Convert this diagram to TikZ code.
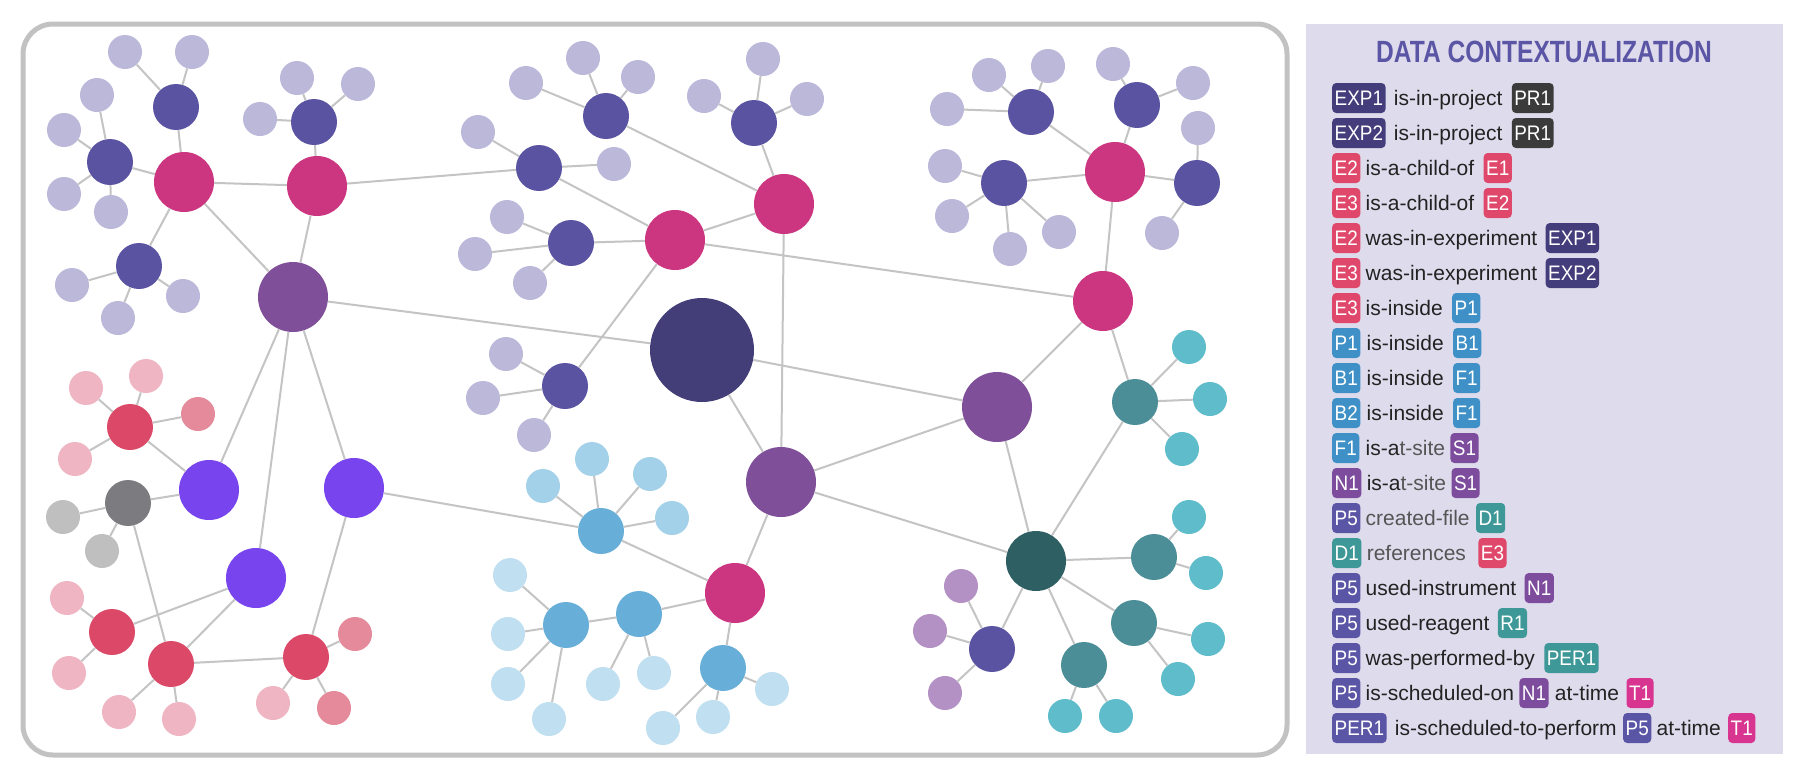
\documentclass[tikz,border=0pt]{standalone}
\usepackage{fontspec}
\setmainfont{Liberation Sans}
\newfontfamily\tagfont[FakeStretch=0.9]{Liberation Sans}
\newfontfamily\relfont{Liberation Sans}
\newfontfamily\titlefont[FakeStretch=0.8]{Liberation Sans}
\definecolor{clav}{HTML}{BBB8DA}
\definecolor{cnavy}{HTML}{5A53A2}
\definecolor{cpink}{HTML}{CC3580}
\definecolor{cpur}{HTML}{7F4F99}
\definecolor{cbig}{HTML}{433E77}
\definecolor{cred}{HTML}{DC4968}
\definecolor{clpink}{HTML}{EFB5C2}
\definecolor{cdpink}{HTML}{E48A9B}
\definecolor{cgray}{HTML}{7C7B7F}
\definecolor{clgray}{HTML}{BFBFBF}
\definecolor{cviolet}{HTML}{7744EE}
\definecolor{cblue}{HTML}{67AED8}
\definecolor{clblue}{HTML}{A4D1EA}
\definecolor{cvlblue}{HTML}{C0DFF0}
\definecolor{cteal}{HTML}{4B8E97}
\definecolor{cdteal}{HTML}{2E5F63}
\definecolor{clteal}{HTML}{5FBDCB}
\definecolor{clilac}{HTML}{B391C4}
\definecolor{cedge}{HTML}{C4C4C4}
\definecolor{cframe}{HTML}{C2C2C2}
\definecolor{cpanel}{HTML}{DEDBEC}
\definecolor{ctitle}{HTML}{5B55A5}
\definecolor{ctext}{HTML}{222222}
\definecolor{cgtext}{HTML}{555555}
\definecolor{tgexp}{HTML}{443D7B}
\definecolor{tgpr}{HTML}{3B3B3B}
\definecolor{tgred}{HTML}{E0486B}
\definecolor{tgblue}{HTML}{3E90C6}
\definecolor{tgpurp}{HTML}{7D4C9D}
\definecolor{tgind}{HTML}{5B55A6}
\definecolor{tgteal}{HTML}{3F9898}
\definecolor{tgpink}{HTML}{D83590}
\begin{document}
\begin{tikzpicture}[x=1pt,y=-1pt,
  ball/.style={circle,inner sep=0pt,draw=none},
  nlav/.style={ball,minimum size=34pt,fill=clav},
  nnavy/.style={ball,minimum size=46pt,fill=cnavy},
  npink/.style={ball,minimum size=60pt,fill=cpink},
  npur/.style={ball,minimum size=70pt,fill=cpur},
  nbig/.style={ball,minimum size=104pt,fill=cbig},
  nred/.style={ball,minimum size=46pt,fill=cred},
  nlpink/.style={ball,minimum size=34pt,fill=clpink},
  ndpink/.style={ball,minimum size=34pt,fill=cdpink},
  ngray/.style={ball,minimum size=46pt,fill=cgray},
  nlgray/.style={ball,minimum size=34pt,fill=clgray},
  nviolet/.style={ball,minimum size=60pt,fill=cviolet},
  nblue/.style={ball,minimum size=46pt,fill=cblue},
  nlblue/.style={ball,minimum size=34pt,fill=clblue},
  nvlblue/.style={ball,minimum size=34pt,fill=cvlblue},
  nteal/.style={ball,minimum size=46pt,fill=cteal},
  ndteal/.style={ball,minimum size=60pt,fill=cdteal},
  nlteal/.style={ball,minimum size=34pt,fill=clteal},
  nlilac/.style={ball,minimum size=34pt,fill=clilac},
  link/.style={draw=cedge,line width=2pt},
  tagbox/.style={rounded corners=4pt,text=white,font=\tagfont\fontsize{21}{25}\selectfont,
    text height=15pt,text depth=0pt,inner ysep=7.5pt,inner xsep=2.5pt,anchor=base west},
  rel/.style={font=\relfont\fontsize{21}{25}\selectfont,text=ctext,inner sep=0pt,anchor=base west}
]
\useasboundingbox (0,0) rectangle (1806,780);
\fill[white] (0,0) rectangle (1806,780);
\draw[line width=5pt,cframe,rounded corners=30pt] (23,24) rectangle (1287,755);

% ---------- nodes: top-left
\node[nlav] (a1) at (125,52) {};
\node[nlav] (a2) at (192,52) {};
\node[nnavy] (a3) at (176,107) {};
\node[nlav] (a4) at (97,95) {};
\node[nlav] (a5) at (64,130) {};
\node[nnavy] (a6) at (110,162) {};
\node[nlav] (a7) at (64,194) {};
\node[nlav] (a8) at (111,212) {};
\node[npink] (pA) at (184,182) {};
\node[nlav] (b1) at (297,78) {};
\node[nlav] (b2) at (358,84) {};
\node[nlav] (b3) at (260,119) {};
\node[nnavy] (b4) at (314,122) {};
\node[npink] (pB) at (317,186) {};
\node[nnavy] (c1) at (139,266) {};
\node[nlav] (c2) at (72,285) {};
\node[nlav] (c3) at (183,296) {};
\node[nlav] (c4) at (118,318) {};
\node[npur] (u1) at (293,297) {};
% top-middle
\node[nlav] (d1) at (583,58) {};
\node[nlav] (d2) at (526,83) {};
\node[nlav] (d3) at (638,77) {};
\node[nnavy] (d4) at (606,116) {};
\node[nlav] (e0) at (478,132) {};
\node[nnavy] (e1) at (539,168) {};
\node[nlav] (e2) at (614,164) {};
\node[nlav] (f1) at (507,217) {};
\node[nlav] (f2) at (475,254) {};
\node[nlav] (f3) at (530,283) {};
\node[nnavy] (f4) at (571,243) {};
\node[npink] (pC) at (675,240) {};
\node[nlav] (g1) at (763,59) {};
\node[nlav] (g2) at (704,96) {};
\node[nlav] (g3) at (807,99) {};
\node[nnavy] (g4) at (754,123) {};
\node[npink] (pD) at (784,204) {};
\node[nbig] (big) at (702,350) {};
% top-right
\node[nlav] (i1) at (989,75) {};
\node[nlav] (i2) at (1048,66) {};
\node[nlav] (i3) at (947,109) {};
\node[nnavy] (i4) at (1031,112) {};
\node[nlav] (j1) at (1113,64) {};
\node[nlav] (j2) at (1193,83) {};
\node[nnavy] (j3) at (1137,105) {};
\node[nlav] (k1) at (945,166) {};
\node[nlav] (k2) at (952,216) {};
\node[nlav] (k3) at (1010,249) {};
\node[nlav] (k4) at (1059,232) {};
\node[nnavy] (k5) at (1004,183) {};
\node[npink] (pE) at (1115,172) {};
\node[nlav] (l1) at (1198,128) {};
\node[nnavy] (l2) at (1197,183) {};
\node[nlav] (l3) at (1162,233) {};
\node[npink] (pF) at (1103,301) {};
% middle
\node[nlav] (h1) at (506,354) {};
\node[nlav] (h2) at (483,398) {};
\node[nlav] (h3) at (534,435) {};
\node[nnavy] (h4) at (565,386) {};
\node[npur] (u3) at (781,482) {};
\node[npink] (pG) at (735,593) {};
\node[nblue] (s1) at (601,531) {};
\node[nlblue] (s1a) at (592,459) {};
\node[nlblue] (s1b) at (543,486) {};
\node[nlblue] (s1c) at (650,474) {};
\node[nlblue] (s1d) at (672,518) {};
\node[nblue] (t1) at (639,614) {};
\node[nblue] (t2) at (566,625) {};
\node[nvlblue] (t1a) at (603,684) {};
\node[nvlblue] (t1b) at (654,673) {};
\node[nvlblue] (t2a) at (510,575) {};
\node[nvlblue] (t2b) at (508,634) {};
\node[nvlblue] (t2c) at (508,684) {};
\node[nvlblue] (t2d) at (549,719) {};
\node[nblue] (ub) at (723,668) {};
\node[nvlblue] (uba) at (772,689) {};
\node[nvlblue] (ubb) at (713,717) {};
\node[nvlblue] (ubc) at (663,728) {};
% bottom-right
\node[npur] (u2) at (997,407) {};
\node[nteal] (n1) at (1135,402) {};
\node[nlteal] (m1) at (1189,347) {};
\node[nlteal] (m2) at (1210,399) {};
\node[nlteal] (m3) at (1182,449) {};
\node[ndteal] (dk) at (1036,561) {};
\node[nteal] (o1) at (1154,557) {};
\node[nlteal] (o2) at (1189,517) {};
\node[nlteal] (o3) at (1206,573) {};
\node[nteal] (p1) at (1134,623) {};
\node[nlteal] (p2) at (1208,639) {};
\node[nlteal] (p3) at (1178,679) {};
\node[nteal] (q1) at (1084,665) {};
\node[nlteal] (q2) at (1065,716) {};
\node[nlteal] (q3) at (1116,716) {};
\node[nnavy] (r1) at (992,649) {};
\node[nlilac] (r2) at (961,586) {};
\node[nlilac] (r3) at (930,631) {};
\node[nlilac] (r4) at (945,693) {};
% bottom-left
\node[nred] (v1) at (130,427) {};
\node[nlpink] (v1a) at (86,388) {};
\node[nlpink] (v1b) at (146,376) {};
\node[nlpink] (v1c) at (75,459) {};
\node[ndpink] (v1d) at (198,414) {};
\node[nviolet] (V1) at (209,490) {};
\node[ngray] (gr) at (128,503) {};
\node[nlgray] (gra) at (63,517) {};
\node[nlgray] (grb) at (102,551) {};
\node[nviolet] (V2) at (354,488) {};
\node[nviolet] (V3) at (256,578) {};
\node[nred] (w1) at (112,632) {};
\node[nlpink] (w1a) at (67,598) {};
\node[nlpink] (w1b) at (69,673) {};
\node[nred] (w2) at (171,664) {};
\node[nlpink] (w2a) at (119,712) {};
\node[nlpink] (w2b) at (179,719) {};
\node[nred] (x1) at (306,657) {};
\node[ndpink] (x1a) at (355,634) {};
\node[ndpink] (x1b) at (334,708) {};
\node[nlpink] (x1c) at (273,703) {};

% ---------- edges
\foreach \p/\q in {a1/a3,a2/a3,a3/pA,a4/a6,a5/a6,a7/a6,a8/a6,a6/pA,pA/pB,pA/u1,pA/c1,
  c1/c2,c1/c3,c1/c4,b1/b4,b2/b4,b3/b4,b4/pB,pB/u1,pB/e1,u1/big,u1/V1,u1/V3,u1/V2,
  d1/d4,d2/d4,d3/d4,d4/pD,e0/e1,e1/e2,e1/pC,f1/f4,f2/f4,f3/f4,f4/pC,pC/pD,
  g1/g4,g2/g4,g3/g4,g4/pD,pC/pF,pD/u3,pC/h4,big/u2,big/u3,h1/h4,h2/h4,h3/h4,
  i1/i4,i2/i4,i3/i4,i4/pE,j1/j3,j2/j3,j3/pE,k1/k5,k2/k5,k3/k5,k4/k5,k5/pE,
  pE/l2,l1/l2,l2/l3,pE/pF,pF/u2,pF/n1,
  u3/u2,u3/dk,u3/pG,pG/s1,pG/t1,pG/ub,t1/t2,s1/V2,s1/s1a,s1/s1b,s1/s1c,s1/s1d,
  t1/t1a,t1/t1b,t2/t2a,t2/t2b,t2/t2c,t2/t2d,ub/uba,ub/ubb,ub/ubc,
  u2/dk,dk/n1,n1/m1,n1/m2,n1/m3,dk/o1,o1/o2,o1/o3,dk/p1,p1/p2,p1/p3,
  dk/q1,q1/q2,q1/q3,dk/r1,r1/r2,r1/r3,r1/r4,
  v1/V1,v1/v1a,v1/v1b,v1/v1c,v1/v1d,gr/V1,gr/gra,gr/grb,gr/w2,V3/w1,V3/w2,
  w1/w1a,w1/w1b,w2/w2a,w2/w2b,w2/x1,V2/x1,x1/x1a,x1/x1b,x1/x1c}
  \draw[link] (\p) -- (\q);

% ---------- legend
\fill[cpanel] (1306,24) rectangle (1783,754);
\node[font=\titlefont\bfseries\fontsize{30.7}{36}\selectfont,text=ctitle] (title) at (1544,52) {DATA CONTEXTUALIZATION};

\node[tagbox,fill=tgexp] (r1a) at (1332,105.5) {EXP1};
\node[rel] (r1b) at ([xshift=8pt]r1a.base east) {is-in-project};
\node[tagbox,fill=tgpr] (r1c) at ([xshift=9pt]r1b.base east) {PR1};

\node[tagbox,fill=tgexp] (r2a) at (1332,140.5) {EXP2};
\node[rel] (r2b) at ([xshift=8pt]r2a.base east) {is-in-project};
\node[tagbox,fill=tgpr] (r2c) at ([xshift=9pt]r2b.base east) {PR1};

\node[tagbox,fill=tgred] (r3a) at (1332,175.5) {E2};
\node[rel] (r3b) at ([xshift=5pt]r3a.base east) {is-a-child-of};
\node[tagbox,fill=tgred] (r3c) at ([xshift=9pt]r3b.base east) {E1};

\node[tagbox,fill=tgred] (r4a) at (1332,210.5) {E3};
\node[rel] (r4b) at ([xshift=5pt]r4a.base east) {is-a-child-of};
\node[tagbox,fill=tgred] (r4c) at ([xshift=9pt]r4b.base east) {E2};

\node[tagbox,fill=tgred] (r5a) at (1332,245.5) {E2};
\node[rel] (r5b) at ([xshift=5pt]r5a.base east) {was-in-experiment};
\node[tagbox,fill=tgexp] (r5c) at ([xshift=8pt]r5b.base east) {EXP1};

\node[tagbox,fill=tgred] (r6a) at (1332,280.5) {E3};
\node[rel] (r6b) at ([xshift=5pt]r6a.base east) {was-in-experiment};
\node[tagbox,fill=tgexp] (r6c) at ([xshift=8pt]r6b.base east) {EXP2};

\node[tagbox,fill=tgred] (r7a) at (1332,315.5) {E3};
\node[rel] (r7b) at ([xshift=5pt]r7a.base east) {is-inside};
\node[tagbox,fill=tgblue] (r7c) at ([xshift=9pt]r7b.base east) {P1};

\node[tagbox,fill=tgblue] (r8a) at (1332,350.5) {P1};
\node[rel] (r8b) at ([xshift=6pt]r8a.base east) {is-inside};
\node[tagbox,fill=tgblue] (r8c) at ([xshift=9pt]r8b.base east) {B1};

\node[tagbox,fill=tgblue] (r9a) at (1332,385.5) {B1};
\node[rel] (r9b) at ([xshift=6pt]r9a.base east) {is-inside};
\node[tagbox,fill=tgblue] (r9c) at ([xshift=9pt]r9b.base east) {F1};

\node[tagbox,fill=tgblue] (r10a) at (1332,420.5) {B2};
\node[rel] (r10b) at ([xshift=6pt]r10a.base east) {is-inside};
\node[tagbox,fill=tgblue] (r10c) at ([xshift=9pt]r10b.base east) {F1};

\node[tagbox,fill=tgblue] (r11a) at (1332,455.5) {F1};
\node[rel] (r11b) at ([xshift=6pt]r11a.base east) {is-a\textcolor{cgtext}{t-site}};
\node[tagbox,fill=tgpurp] (r11c) at ([xshift=5pt]r11b.base east) {S1};

\node[tagbox,fill=tgpurp] (r12a) at (1332,490.5) {N1};
\node[rel] (r12b) at ([xshift=5pt]r12a.base east) {is-a\textcolor{cgtext}{t-site}};
\node[tagbox,fill=tgpurp] (r12c) at ([xshift=5pt]r12b.base east) {S1};

\node[tagbox,fill=tgind] (r13a) at (1332,525.5) {P5};
\node[rel,text=cgtext] (r13b) at ([xshift=5pt]r13a.base east) {created-file};
\node[tagbox,fill=tgteal] (r13c) at ([xshift=6pt]r13b.base east) {D1};

\node[tagbox,fill=tgteal] (r14a) at (1332,560.5) {D1};
\node[rel,text=cgtext] (r14b) at ([xshift=5pt]r14a.base east) {references};
\node[tagbox,fill=tgred] (r14c) at ([xshift=12pt]r14b.base east) {E3};

\node[tagbox,fill=tgind] (r15a) at (1332,595.5) {P5};
\node[rel] (r15b) at ([xshift=5pt]r15a.base east) {used-instrument};
\node[tagbox,fill=tgpurp] (r15c) at ([xshift=8pt]r15b.base east) {N1};

\node[tagbox,fill=tgind] (r16a) at (1332,630.5) {P5};
\node[rel] (r16b) at ([xshift=5pt]r16a.base east) {used-reagent};
\node[tagbox,fill=tgteal] (r16c) at ([xshift=8pt]r16b.base east) {R1};

\node[tagbox,fill=tgind] (r17a) at (1332,665.5) {P5};
\node[rel] (r17b) at ([xshift=5pt]r17a.base east) {was-performed-by};
\node[tagbox,fill=tgteal] (r17c) at ([xshift=9pt]r17b.base east) {PER1};

\node[tagbox,fill=tgind] (r18a) at (1332,700.5) {P5};
\node[rel] (r18b) at ([xshift=5pt]r18a.base east) {is-scheduled-on};
\node[tagbox,fill=tgpurp] (r18c) at ([xshift=5pt]r18b.base east) {N1};
\node[rel] (r18d) at ([xshift=6pt]r18c.base east) {at-time};
\node[tagbox,fill=tgpink] (r18e) at ([xshift=7pt]r18d.base east) {T1};

\node[tagbox,fill=tgind] (r19a) at (1332,735.5) {PER1};
\node[rel] (r19b) at ([xshift=8pt]r19a.base east) {is-scheduled-to-perform};
\node[tagbox,fill=tgind] (r19c) at ([xshift=6pt]r19b.base east) {P5};
\node[rel] (r19d) at ([xshift=5pt]r19c.base east) {at-time};
\node[tagbox,fill=tgpink] (r19e) at ([xshift=7pt]r19d.base east) {T1};
\end{tikzpicture}
\end{document}
